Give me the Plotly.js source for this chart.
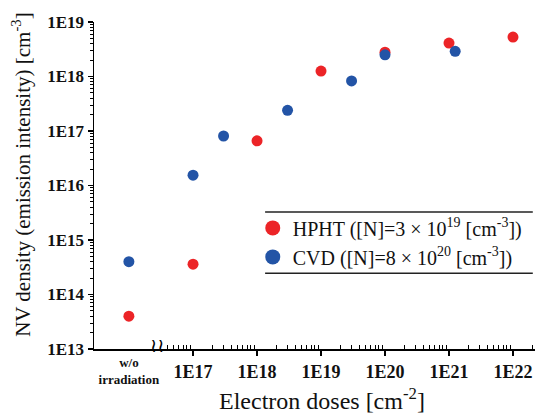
<!DOCTYPE html>
<html>
<head>
<meta charset="utf-8">
<script src="https://cdn.plot.ly/plotly-3.0.1.min.js"></script>
<style>html,body{margin:0;padding:0;background:#fff;}#chart{width:542px;height:414px;}</style>
</head>
<body>
<div id="chart"></div>
<script>
// ---- data ----
var hphtDoses = [1e17, 1e18, 1e19, 1e20, 1e21, 1e22];
var hphtNV    = [3.6e14, 6.6e16, 1.26e18, 2.8e18, 4.1e18, 5.3e18];
var hphtNoIrr = 4.0e13;

var cvdDoses = [1e17, 3e17, 3e18, 3e19, 1e20, 1.25e21];
var cvdNV    = [1.55e16, 8.1e16, 2.4e17, 8.3e17, 2.5e18, 2.9e18];
var cvdNoIrr = 4.0e14;

var noIrrLabel = 'w/o<br>irradiation';
var xTickVals = [1e17, 1e18, 1e19, 1e20, 1e21, 1e22];
var xTickText = ['1E17', '1E18', '1E19', '1E20', '1E21', '1E22'];
var yTickVals = [1e13, 1e14, 1e15, 1e16, 1e17, 1e18, 1e19];
var yTickText = ['1E13', '1E14', '1E15', '1E16', '1E17', '1E18', '1E19'];

var hphtName = 'HPHT ([N]=3 × 10<sup>19</sup> [cm<sup>-3</sup>])';
var cvdName  = 'CVD ([N]=8 × 10<sup>20</sup> [cm<sup>-3</sup>])';

// ---- style ----
var RED = '#ec2427', BLUE = '#2354a6';
var SERIF = 'Liberation Serif, Times New Roman, serif';
var MS = 11, LEG_MS = 15;

function minorVals(lo, hi) {
  var v = [];
  for (var e = lo; e < hi; e++) for (var d = 2; d <= 9; d++) v.push(d * Math.pow(10, e));
  return v;
}

var traces = [
  {x: hphtDoses, y: hphtNV, type: 'scatter', mode: 'markers', name: hphtName, showlegend: false,
   marker: {color: RED, size: MS}, xaxis: 'x', yaxis: 'y'},
  {x: cvdDoses, y: cvdNV, type: 'scatter', mode: 'markers', name: cvdName, showlegend: false,
   marker: {color: BLUE, size: MS}, xaxis: 'x', yaxis: 'y'},
  {x: [0.5], y: [hphtNoIrr], type: 'scatter', mode: 'markers', showlegend: false,
   marker: {color: RED, size: MS}, xaxis: 'x2', yaxis: 'y'},
  {x: [0.5], y: [cvdNoIrr], type: 'scatter', mode: 'markers', showlegend: false,
   marker: {color: BLUE, size: MS}, xaxis: 'x2', yaxis: 'y'},
  // legend entries (no data of their own)
  {x: [null], y: [null], type: 'scatter', mode: 'markers', name: hphtName, legendgroup: 'a',
   marker: {color: RED, size: LEG_MS}, xaxis: 'x', yaxis: 'y'},
  {x: [null], y: [null], type: 'scatter', mode: 'markers', name: cvdName, legendgroup: 'b',
   marker: {color: BLUE, size: LEG_MS}, xaxis: 'x', yaxis: 'y'},
  // empty carriers so the minor-tick axes get drawn
  {x: [null], y: [null], type: 'scatter', mode: 'markers', showlegend: false, xaxis: 'x3', yaxis: 'y'},
  {x: [null], y: [null], type: 'scatter', mode: 'markers', showlegend: false, xaxis: 'x2', yaxis: 'y2'}
];

var layout = {
  width: 542, height: 414,
  margin: {l: 94, r: 7, t: 22, b: 65},
  paper_bgcolor: '#fff', plot_bgcolor: '#fff',
  showlegend: true,
  legend: {x: 0.36, y: 0.43, xanchor: 'left', yanchor: 'top',
    bgcolor: 'rgba(0,0,0,0)', borderwidth: 0, tracegroupgap: 0,
    traceorder: 'grouped',
    font: {family: SERIF, size: 20, color: '#111'}},
  xaxis: {type: 'log', domain: [0.1497, 1], range: [16.484, 22.344],
    anchor: 'y', tickmode: 'array', tickvals: xTickVals, ticktext: xTickText,
    ticks: 'outside', ticklen: 5, tickwidth: 1.5, tickcolor: '#000',
    tickfont: {family: SERIF, size: 18, color: '#111', weight: 'bold'},
    showline: true, linecolor: '#000', linewidth: 2,
    showgrid: false, zeroline: false},
  xaxis3: {type: 'log', domain: [0.1497, 1], range: [16.484, 22.344],
    anchor: 'y', overlaying: 'x', side: 'bottom',
    tickmode: 'array', tickvals: minorVals(16, 23), showticklabels: false,
    ticks: 'inside', ticklen: 4, tickwidth: 1, tickcolor: '#000',
    showline: false, showgrid: false, zeroline: false},
  xaxis2: {domain: [0, 0.1497], range: [-0.06, 1], anchor: 'y',
    tickmode: 'array', tickvals: [0.5], ticktext: [noIrrLabel],
    ticks: '', tickfont: {family: SERIF, size: 13, color: '#111', weight: 'bold'},
    showline: true, linecolor: '#000', linewidth: 2,
    showgrid: false, zeroline: false},
  yaxis: {type: 'log', range: [13, 19], anchor: 'x2',
    tickmode: 'array', tickvals: yTickVals, ticktext: yTickText,
    ticks: 'outside', ticklen: 5, tickwidth: 1.5, tickcolor: '#000',
    tickfont: {family: SERIF, size: 17, color: '#111', weight: 'bold'},
    showline: true, linecolor: '#000', linewidth: 1.5,
    showgrid: false, zeroline: false},
  yaxis2: {type: 'log', range: [13, 19], anchor: 'x2', overlaying: 'y', side: 'left',
    tickmode: 'array', tickvals: minorVals(13, 19), showticklabels: false,
    ticks: 'outside', ticklen: 3, tickwidth: 1, tickcolor: '#000',
    showline: false, showgrid: false, zeroline: false},
  annotations: [
    {xref: 'paper', yref: 'paper', x: 0.517, y: -0.153, xanchor: 'center', yanchor: 'middle',
     showarrow: false, text: 'Electron doses [cm<sup>-2</sup>]',
     font: {family: SERIF, size: 24, color: '#111'}},
    {xref: 'paper', yref: 'paper', x: -0.166, y: 0.535, xanchor: 'center', yanchor: 'middle',
     textangle: -90, showarrow: false,
     text: 'NV density (emission intensity) [cm<sup>-3</sup>]',
     font: {family: SERIF, size: 21, color: '#111'}},
    {xref: 'paper', yref: 'paper', x: 0.143, y: 0.012, xanchor: 'center', yanchor: 'middle',
     showarrow: false, text: '≀≀', font: {family: 'DejaVu Sans', size: 19, color: '#000'}}
  ],
  shapes: [
    {type: 'line', xref: 'paper', yref: 'paper', x0: 0.388, x1: 0.995, y0: 0.419, y1: 0.419,
     line: {color: '#222', width: 1.5}},
    {type: 'line', xref: 'paper', yref: 'paper', x0: 0.388, x1: 0.995, y0: 0.232, y1: 0.232,
     line: {color: '#222', width: 1.5}}
  ]
};

Plotly.newPlot('chart', traces, layout, {displayModeBar: false, staticPlot: true});
</script>
</body>
</html>
